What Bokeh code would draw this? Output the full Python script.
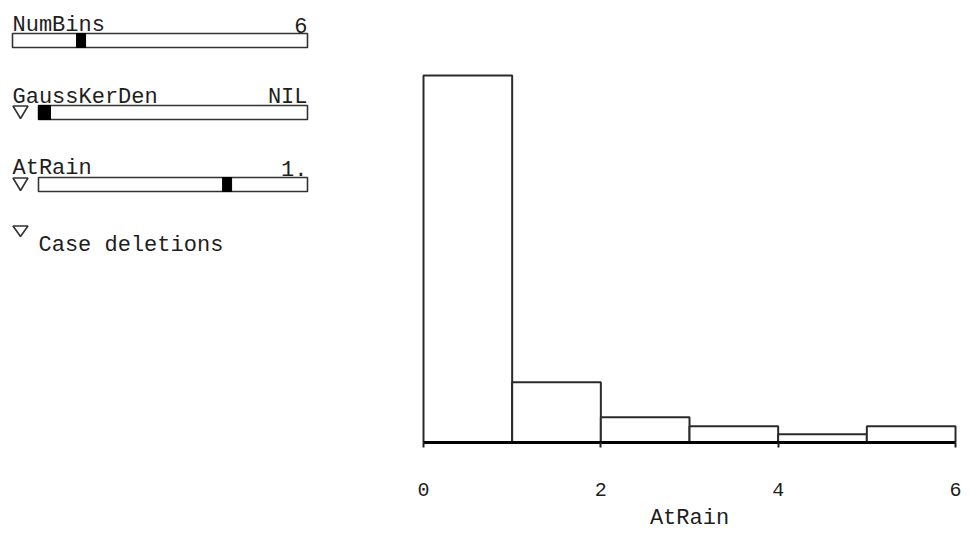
from bokeh.plotting import figure
from bokeh.models import Range1d, FixedTicker
from bokeh.layouts import row
from bokeh.core.properties import value
from bokeh.embed import file_html
from bokeh.resources import INLINE

# ---- data ----
hist_edges = [0, 1, 2, 3, 4, 5, 6]
hist_counts = [45, 7.4, 3.1, 2.0, 1.0, 2.0]
x_ticks = [0, 2, 4, 6]
x_label = "AtRain"

slider_names = ["NumBins", "GaussKerDen", "AtRain"]
slider_values = ["6", "NIL", "1."]
slider_fraction = [0.224, 0.0, 0.708]
slider_has_menu = [False, True, True]
extra_label = "Case deletions"

FONT = "Liberation Mono"
INK = "#1e1e1e"

# ---- left control panel ----
left = figure(width=400, height=533, x_range=Range1d(0, 400), y_range=Range1d(533, 0),
              output_backend="svg", toolbar_location=None, min_border=0,
              x_axis_location=None, y_axis_location=None, outline_line_color=None)
left.grid.visible = False
left.frame_align = False

label_base = [25, 97, 168]
track_top = [33, 105, 177]
track_h = 14
track_right = 307
thumb_w = 9

tl, tr, tt, tb = [], [], [], []
hl, hr, ht, hb = [], [], [], []
tri_xs, tri_ys = [], []
for i, name in enumerate(slider_names):
    x0 = 38 if slider_has_menu[i] else 12
    tl.append(x0); tr.append(track_right); tt.append(track_top[i]); tb.append(track_top[i] + track_h)
    hleft = x0 + slider_fraction[i] * (track_right - x0 - thumb_w)
    w = thumb_w + (3 if slider_fraction[i] == 0 else 0)
    hl.append(hleft); hr.append(hleft + w); ht.append(track_top[i]); hb.append(track_top[i] + track_h)
    if slider_has_menu[i]:
        tri_xs.append([12.5, 27.5, 20]); tri_ys.append([track_top[i] + 0.5, track_top[i] + 0.5, track_top[i] + 13])
tri_xs.append([12.5, 27.5, 20]); tri_ys.append([225.5, 225.5, 236])

left.quad(left=tl, right=tr, top=tt, bottom=tb, fill_color="white", line_color="#333333", line_width=1.6)
left.quad(left=hl, right=hr, top=ht, bottom=hb, fill_color="black", line_color="black", line_width=1)
left.patches(xs=tri_xs, ys=tri_ys, fill_color="white", line_color="#333333", line_width=1.6)

left.text(x=[12] * 3, y=label_base, text=slider_names, text_font=value(FONT), text_font_size="22px",
          text_color=INK, text_align="left", text_baseline="alphabetic")
left.text(x=[307] * 3, y=label_base, text=slider_values, text_font=value(FONT), text_font_size="22px",
          text_color=INK, text_align="right", text_baseline="alphabetic")
left.text(x=[38], y=[245], text=[extra_label], text_font=value(FONT), text_font_size="22px",
          text_color=INK, text_align="left", text_baseline="alphabetic")

# ---- histogram ----
p = figure(width=569, height=533, x_range=Range1d(-0.0451, 6.045), y_range=Range1d(0, 46.84),
           output_backend="svg", toolbar_location=None, y_axis_location=None,
           min_border_left=19, min_border_right=10, min_border_top=60, min_border_bottom=91,
           outline_line_color=None)
p.grid.visible = False
p.frame_align = False

p.quad(left=hist_edges[:-1], right=hist_edges[1:], bottom=0, top=hist_counts,
       fill_color="white", line_color="#2b2b2b", line_width=2)

ax = p.xaxis[0]
ax.ticker = FixedTicker(ticks=x_ticks)
ax.bounds = (0, 6)
ax.axis_label = x_label
ax.axis_line_width = 3
ax.axis_line_color = "black"
ax.major_tick_in = 0
ax.major_tick_out = 5
ax.major_tick_line_width = 2
ax.major_tick_line_color = "#222222"
ax.minor_tick_line_color = None
ax.major_label_text_font = FONT
ax.major_label_text_font_size = "20px"
ax.major_label_text_color = INK
ax.major_label_standoff = 35
ax.axis_label_text_font = FONT
ax.axis_label_text_font_size = "22px"
ax.axis_label_text_font_style = "normal"
ax.axis_label_text_color = INK
ax.axis_label_standoff = 7

layout = row(left, p, spacing=0)
open("out.html", "w").write(file_html(layout, INLINE))
